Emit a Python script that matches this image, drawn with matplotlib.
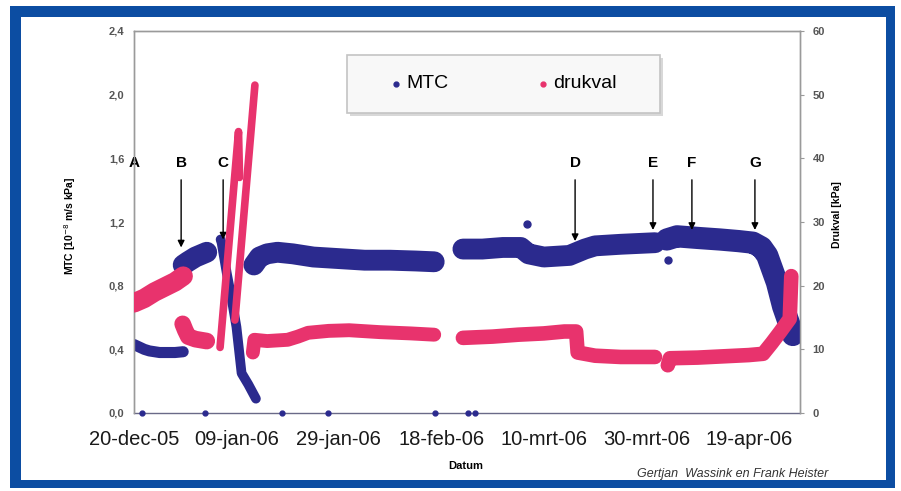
import numpy as np
import matplotlib
matplotlib.use("Agg")
import matplotlib.pyplot as plt
from matplotlib.patches import Rectangle
from matplotlib.lines import Line2D

plt.rcParams['font.family'] = ['Liberation Sans', 'DejaVu Sans']

nan = np.nan
# x = days since 20-dec-2005
tick_days = [0, 20, 40, 60, 80, 100, 120]
tick_labels = ['20-dec-05', '09-jan-06', '29-jan-06', '18-feb-06', '10-mrt-06', '30-mrt-06', '19-apr-06']

# MTC series (left axis), segments separated by NaN
mtc_days = [0, 1, 2, 3, 5, 8, 9.6, nan,
            9.6, 10.5, 12, 14.2, nan,
            16.9, 17.1, 18.1, 19.1, 20.0, 21.0, 22.3, 23.8, nan,
            23.4, 24.5, 26, 28, 31, 35, 40, 45, 50, 55, 58.6, nan,
            64.2, 68, 72, 75.5, 77, 80, 85, 88, 90, 95, 101.7, nan,
            104, 106, 110, 114.4, 118, 120.8, 122.5, 123.6, 125.5, 126.7, 128.0, 128.6]
mtc_vals = [0.43, 0.415, 0.40, 0.39, 0.38, 0.38, 0.385, nan,
            0.93, 0.95, 0.98, 1.01, nan,
            1.09, 1.07, 0.88, 0.71, 0.54, 0.25, 0.18, 0.09, nan,
            0.93, 0.98, 1.00, 1.01, 1.00, 0.98, 0.97, 0.96, 0.96, 0.955, 0.95, nan,
            1.03, 1.03, 1.04, 1.04, 1.00, 0.98, 0.99, 1.03, 1.05, 1.06, 1.07, nan,
            1.09, 1.11, 1.10, 1.09, 1.08, 1.07, 1.04, 0.99, 0.82, 0.67, 0.55, 0.49]
mtc_zero_days = [1.6, 13.9, 28.9, 37.9, 58.8, 65.2, 66.6]
mtc_outlier_days = [76.7, 104.3]
mtc_outlier_vals = [1.19, 0.96]

# drukval series (right axis)
druk_days = [0, 2, 4, 6, 8, 9.6, nan,
             9.5, 10.0, 10.6, 12, 14.2, nan,
             16.8, 20.4, 20.6, nan,
             19.7, 23.6, nan,
             23.2, 23.5, 26, 30, 32, 34, 38, 42, 48, 54, 58.6, nan,
             64.2, 70, 75, 80, 84, 86.3, 86.6, 90, 95, 101.7, nan,
             104.2, 104.6, 110, 115, 120, 122.8, 124.5, 126.1, 128.0, 128.3]
druk_vals = [17.3, 18.0, 19.0, 19.8, 20.6, 21.5, nan,
             14.0, 13.0, 12.0, 11.6, 11.3, nan,
             10.3, 44.2, 37.0, nan,
             14.6, 51.5, nan,
             9.5, 11.5, 11.3, 11.5, 12.0, 12.6, 12.9, 13.0, 12.7, 12.5, 12.3, nan,
             11.8, 12.0, 12.3, 12.5, 12.8, 12.8, 9.5, 9.0, 8.8, 8.8, nan,
             7.5, 8.6, 8.7, 8.9, 9.1, 9.3, 11.0, 12.7, 14.8, 21.5]

# event markers
event_letters = ['A', 'B', 'C', 'D', 'E', 'F', 'G']
event_days = [0, 9.2, 17.4, 86.1, 101.3, 108.9, 121.2]
event_tips = [None, 1.04, 1.09, 1.08, 1.15, 1.15, 1.15]

NAVY = '#2b2a8e'
PINK = '#e8336d'
FRAME = '#0c4da2'

W, H = 901, 491
fig = plt.figure(figsize=(W / 100, H / 100), dpi=100)
fig.patch.set_facecolor('white')

def fx(px):
    return px / W

def fy(py):
    return 1 - py / H

# blue frame
fig.add_artist(Rectangle((fx(10), fy(488)), fx(885), 482 / H, transform=fig.transFigure,
                         facecolor=FRAME, edgecolor='none', zorder=-10))
fig.add_artist(Rectangle((fx(21), fy(480)), fx(865), 463 / H, transform=fig.transFigure,
                         facecolor='white', edgecolor='none', zorder=-9))

ax = fig.add_axes([fx(134), fy(413), fx(666), 382 / H])
ax2 = ax.twinx()
ax.set_facecolor('none')
ax2.set_facecolor('none')


def segments(xs, ys):
    xs = np.asarray(xs, float)
    ys = np.asarray(ys, float)
    breaks = np.where(np.isnan(xs))[0]
    start = 0
    out = []
    for b in list(breaks) + [len(xs)]:
        out.append((xs[start:b], ys[start:b]))
        start = b + 1
    return out

mtc_widths = [8, 15, 7, 15, 15, 16]
for (sx, sy), lw in zip(segments(mtc_days, mtc_vals), mtc_widths):
    ax.plot(sx, sy, color=NAVY, lw=lw, solid_capstyle='round', solid_joinstyle='round', zorder=3)
ax.plot(mtc_outlier_days, mtc_outlier_vals, 'o', color=NAVY, ms=5, zorder=3)
ax.plot(mtc_zero_days, [0] * len(mtc_zero_days), 'o', color=NAVY, ms=3.5, clip_on=False, zorder=5)

druk_widths = [14, 12, 5.5, 5.5, 10, 10.5, 10.5]
for (sx, sy), lw in zip(segments(druk_days, druk_vals), druk_widths):
    ax2.plot(sx, sy, color=PINK, lw=lw, solid_capstyle='round', solid_joinstyle='round', zorder=3)

ax.set_xlim(0, 130)
ax.set_ylim(0, 2.4)
ax2.set_ylim(0, 60)
ax.set_yticks(np.arange(0, 2.41, 0.4))
ax.set_yticklabels([f'{v:.1f}'.replace('.', ',') for v in np.arange(0, 2.41, 0.4)])
ax2.set_yticks(np.arange(0, 61, 10))
ax.set_xticks(tick_days)
ax.set_xticklabels(tick_labels, fontsize=14.5, color='#1a1a1a')
ax.tick_params(axis='x', length=0, pad=12)
ax.tick_params(axis='y', length=0, pad=7, labelsize=8, labelcolor='#555555')
ax2.tick_params(axis='y', length=3, pad=6, labelsize=8, labelcolor='#555555', color='#999999')
for t in ax.get_yticklabels() + ax2.get_yticklabels():
    t.set_fontweight('bold')

for a in (ax, ax2):
    for s in a.spines.values():
        s.set_color('#9a9a9a')
        s.set_linewidth(1.0)
ax.spines['bottom'].set_color('#6a6a88')
ax2.spines['bottom'].set_visible(False)

ax.set_ylabel('MTC [10$^{-8}$ m/s kPa]', fontsize=7.5, fontweight='bold')
ax.yaxis.set_label_coords(-0.084, 0.49)
ax2.set_ylabel('Drukval [kPa]', fontsize=7.5, fontweight='bold')
ax2.yaxis.set_label_coords(1.048, 0.52)

fig.text(fx(466), fy(466), 'Datum', fontsize=8, fontweight='bold', ha='center', va='center')
fig.text(fx(828), fy(474), 'Gertjan  Wassink en Frank Heister', fontsize=9, style='italic',
         ha='right', va='center', color='#333333')

# event letters & arrows
for letter, d, tip in zip(event_letters, event_days, event_tips):
    ax.text(d, 1.571, letter, ha='center', va='center', fontsize=11, fontweight='bold', zorder=6)
    if tip is not None:
        ax.annotate('', xy=(d, tip), xytext=(d, 1.465),
                    arrowprops=dict(arrowstyle='-|>', color='black', lw=1.0,
                                    mutation_scale=10, shrinkA=0, shrinkB=0), zorder=6)

# legend box
fig.add_artist(Rectangle((fx(350), fy(116)), fx(313), 58 / H, transform=fig.transFigure,
                         facecolor='#d8d8d8', edgecolor='none', zorder=7))
fig.add_artist(Rectangle((fx(347), fy(113)), fx(313), 58 / H, transform=fig.transFigure,
                         facecolor='#f8f8f8', edgecolor='#c4c4c4', lw=1.2, zorder=8))
fig.add_artist(Line2D([fx(396)], [fy(84)], marker='o', ms=3.5, color=NAVY,
                      transform=fig.transFigure, zorder=9))
fig.text(fx(406), fy(84), 'MTC', fontsize=14, ha='left', va='center', zorder=9)
fig.add_artist(Line2D([fx(543)], [fy(84)], marker='o', ms=3.5, color=PINK,
                      transform=fig.transFigure, zorder=9))
fig.text(fx(553), fy(84), 'drukval', fontsize=14, ha='left', va='center', zorder=9)

fig.savefig('out.png', dpi=100)
